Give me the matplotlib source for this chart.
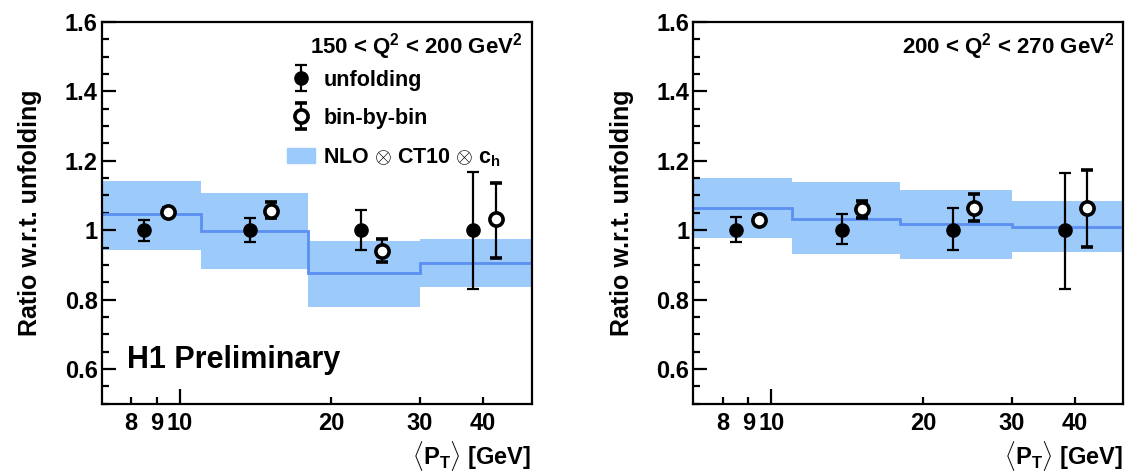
import numpy as np
import matplotlib.pyplot as plt
from matplotlib.patches import Patch
from matplotlib.container import ErrorbarContainer
from matplotlib.legend_handler import HandlerErrorbar
from matplotlib.ticker import FixedLocator, FixedFormatter, MultipleLocator, FormatStrFormatter

plt.rcParams['font.family'] = ['Liberation Sans', 'DejaVu Sans']
plt.rcParams['font.weight'] = 'bold'
plt.rcParams['axes.labelweight'] = 'bold'
plt.rcParams['mathtext.fontset'] = 'custom'
plt.rcParams['mathtext.rm'] = 'Liberation Sans:bold'
plt.rcParams['mathtext.bf'] = 'Liberation Sans:bold'
plt.rcParams['mathtext.it'] = 'Liberation Sans:bold'

# pt bins and theory band (NLO x CT10 x c_h)
edges = [7, 11, 18, 30, 50]
x_unf = [8.5, 13.8, 22.9, 38.3]
x_bbb = [9.46, 15.15, 25.2, 42.4]

# left panel: 150 < Q2 < 200
nlo_lo_1 = [0.942, 0.887, 0.779, 0.836]
nlo_hi_1 = [1.143, 1.107, 0.969, 0.975]
nlo_c_1 = [1.048, 0.997, 0.877, 0.906]
unf_1 = [1.0, 1.0, 1.0, 1.0]
unf_up_1 = [0.029, 0.036, 0.058, 0.167]
unf_dn_1 = [0.032, 0.033, 0.058, 0.169]
bbb_1 = [1.053, 1.055, 0.940, 1.033]
bbb_up_1 = [0.010, 0.025, 0.036, 0.102]
bbb_dn_1 = [0.010, 0.020, 0.032, 0.113]

# right panel: 200 < Q2 < 270
nlo_lo_2 = [0.977, 0.931, 0.916, 0.938]
nlo_hi_2 = [1.149, 1.140, 1.116, 1.085]
nlo_c_2 = [1.065, 1.032, 1.017, 1.010]
unf_2 = [1.0, 1.0, 1.0, 1.0]
unf_up_2 = [0.038, 0.046, 0.065, 0.165]
unf_dn_2 = [0.033, 0.040, 0.058, 0.168]
bbb_2 = [1.030, 1.061, 1.065, 1.063]
bbb_up_2 = [0.012, 0.024, 0.039, 0.111]
bbb_dn_2 = [0.012, 0.026, 0.038, 0.111]

band_col = '#9ccbfb'
line_col = '#5b8ff2'

fig = plt.figure(figsize=(11.3, 4.74), dpi=100)
ax1 = fig.add_axes([0.090, 0.148, 0.3805, 0.806])
ax2 = fig.add_axes([0.6137, 0.148, 0.3805, 0.806])


def draw(ax, lo, hi, c, unf, uu, ud, bbb, bu, bd, title):
    ax.fill_between(edges, lo + [lo[-1]], hi + [hi[-1]], step='post',
                    color=band_col, lw=0, zorder=1)
    ax.stairs(c, edges, baseline=None, color=line_col, lw=2, zorder=2)
    eu = ax.errorbar(x_unf, unf, yerr=[ud, uu], fmt='o', color='black',
                     ms=9.5, lw=1.6, capsize=4, capthick=1.6, zorder=4)
    eb = ax.errorbar(x_bbb, bbb, yerr=[bd, bu], fmt='o', color='black',
                     mfc='white', mec='black', mew=2.6, ms=9.5, lw=1.6,
                     capsize=4, capthick=1.6, zorder=5)
    ax.set_xscale('log')
    ax.set_xlim(7, 50)
    ax.set_ylim(0.5, 1.6)
    ax.xaxis.set_major_locator(FixedLocator([10]))
    ax.xaxis.set_major_formatter(FixedFormatter(['10']))
    ax.xaxis.set_minor_locator(FixedLocator([8, 9, 20, 30, 40]))
    ax.xaxis.set_minor_formatter(FixedFormatter(['8', '9', '20', '30', '40']))
    ax.yaxis.set_major_locator(MultipleLocator(0.2))
    ax.yaxis.set_minor_locator(MultipleLocator(0.05))
    ax.yaxis.set_major_formatter(FormatStrFormatter('%g'))
    ax.tick_params(which='both', direction='in', top=False, right=False,
                   labelsize=17, width=1.6)
    ax.tick_params(axis='y', which='major', length=10, pad=3)
    ax.tick_params(axis='y', which='minor', length=5)
    ax.tick_params(axis='x', which='major', length=11, pad=6)
    ax.tick_params(axis='x', which='minor', length=5, pad=6, labelsize=17)
    for s in ax.spines.values():
        s.set_linewidth(1.6)
    ax.set_ylabel('Ratio w.r.t. unfolding', fontsize=18, labelpad=16)
    ax.set_xlabel(r'$\langle$P$_\mathrm{T}\rangle$ [GeV]', fontsize=17,
                  loc='right', labelpad=3)
    ax.text(0.98, 0.935, title, transform=ax.transAxes, ha='right',
            va='center', fontsize=16)
    return eu, eb


eu, eb = draw(ax1, nlo_lo_1, nlo_hi_1, nlo_c_1, unf_1, unf_up_1, unf_dn_1,
              bbb_1, bbb_up_1, bbb_dn_1,
              r'150 < Q$^2$ < 200 GeV$^2$')
draw(ax2, nlo_lo_2, nlo_hi_2, nlo_c_2, unf_2, unf_up_2, unf_dn_2,
     bbb_2, bbb_up_2, bbb_dn_2, r'200 < Q$^2$ < 270 GeV$^2$')

ax1.legend([eu, eb, Patch(color=band_col)],
           ['unfolding', 'bin-by-bin', r'NLO $\otimes$ CT10 $\otimes$ c$_\mathrm{h}$'],
           handler_map={ErrorbarContainer: HandlerErrorbar(xerr_size=0, yerr_size=0.6)},
           loc='upper left', bbox_to_anchor=(0.43, 0.875), frameon=False,
           fontsize=15.5, handlelength=1.3, handletextpad=0.4,
           labelspacing=0.8, borderpad=0, borderaxespad=0)
ax1.text(0.06, 0.115, 'H1 Preliminary', transform=ax1.transAxes,
         ha='left', va='center', fontsize=22)

fig.savefig('out.png', dpi=100)
